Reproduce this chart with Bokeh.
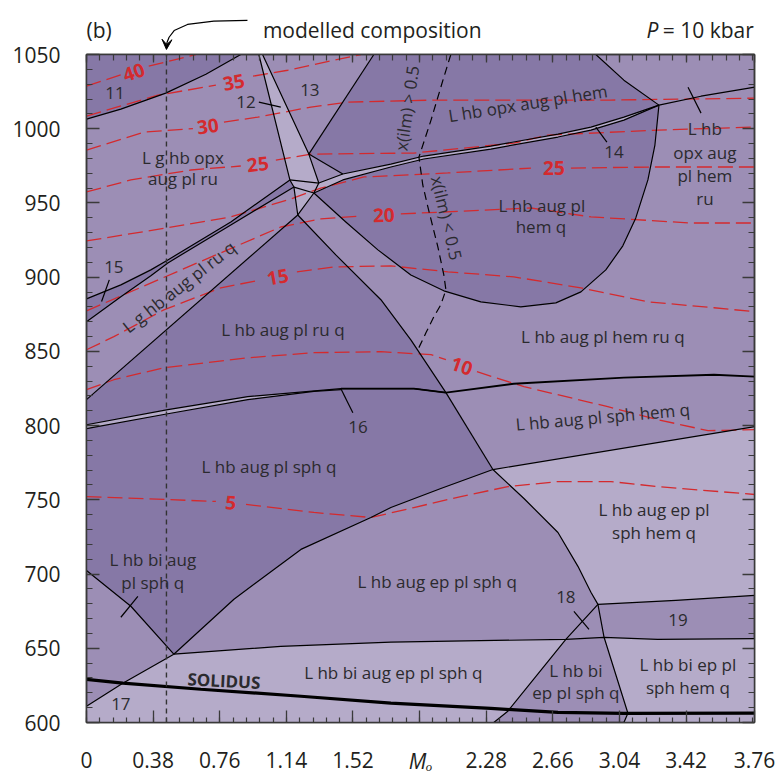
from bokeh.plotting import figure
from bokeh.layouts import column
from bokeh.models import (Range1d, FixedTicker, LinearAxis, Arrow,
                          VeeHead, ColumnDataSource)
from bokeh.embed import file_html
from bokeh.resources import INLINE
from bokeh.core.properties import value

NAN = float("nan")
FONT = "Open Sans"
INK = "#2b2a2e"
AXIS = "#3a3a3a"
RED = "#d42a2e"
DARK = "#8678a6"
MID = "#9c8eb5"
LIGHT = "#b5abc9"

# ---------------- axes ----------------
mo_ticks = [0, 0.38, 0.76, 1.14, 1.52, 1.9, 2.28, 2.66, 3.04, 3.42, 3.81]
mo_labels = ["0", "0.38", "0.76", "1.14", "1.52", "", "2.28", "2.66", "3.04", "3.42", "3.76"]
mo_minor = [round(0.076 * i, 3) for i in range(51)]
t_ticks = [600, 650, 700, 750, 800, 850, 900, 950, 1000, 1050]
t_minor = list(range(600, 1051, 10))
mo_title = "M\u2092"

# ---------------- field boundaries (M_O, T in deg C) ----------------
f11_mo = [0.0, 0.196, 0.452, 0.681, 0.880]
f11_t = [1006.5, 1013.2, 1024.0, 1036.7, 1050.0]

w_left_mo = [0.983, 1.160, 1.183, 1.205]
w_left_t = [1050.0, 965.5, 960.7, 941.9]
w_right_mo = [1.004, 1.268, 1.325, 1.297, 1.205]
w_right_t = [1050.0, 982.9, 963.4, 956.7, 941.9]
w_x1_mo = [1.160, 1.325]
w_x1_t = [965.5, 963.4]
w_x2_mo = [1.183, 1.297]
w_x2_t = [960.7, 956.7]

d_mo = [1.639, 1.268]
d_t = [1050.0, 982.9]
e_mo = [1.268, 1.462]
e_t = [982.9, 969.5]

b14u_mo = [1.325, 1.462, 1.736, 1.924, 2.306, 2.689, 2.877, 3.065, 3.265]
b14u_t = [963.4, 969.5, 976.2, 981.6, 988.3, 996.4, 1001.1, 1007.8, 1015.9]
b14l_mo = [1.297, 1.462, 1.736, 1.924, 2.306, 2.689, 2.877, 3.065, 3.265]
b14l_t = [956.7, 965.5, 974.2, 979.6, 986.3, 994.4, 999.1, 1005.8, 1015.9]

cv_mo = [1.297, 1.479, 1.662, 1.850, 2.038, 2.249, 2.477, 2.677, 2.820,
         2.962, 3.059, 3.133, 3.202, 3.242, 3.265]
cv_t = [956.7, 937.2, 918.4, 901.5, 890.8, 883.4, 880.0, 882.7, 890.1,
        904.9, 921.1, 939.9, 965.5, 989.0, 1015.9]

tr_mo = [2.905, 3.065, 3.265]
tr_t = [1050.0, 1032.7, 1015.9]
v7r_mo = [3.265, 3.505, 3.812]
v7r_t = [1015.9, 1021.9, 1028.0]

h1_mo = [0.0, 0.196, 0.367, 0.464, 0.823, 1.160]
h1_t = [885.4, 894.8, 904.9, 911.6, 937.2, 965.5]
h2_mo = [0.0, 0.196, 0.367, 0.464, 0.823, 1.183]
h2_t = [869.9, 886.8, 900.9, 909.6, 935.2, 960.7]

g_mo = [0.0, 1.205]
g_t = [817.5, 941.9]
f_mo = [1.205, 1.422, 1.679, 1.850, 2.050]
f_t = [941.9, 915.0, 884.8, 857.8, 822.2]

b16u_mo = [0.0, 0.464, 0.920, 1.451, 1.867, 2.050]
b16u_t = [800.6, 810.8, 819.5, 824.9, 824.9, 822.2]
b16l_mo = [0.0, 0.464, 0.920, 1.297, 1.451]
b16l_t = [798.0, 808.0, 817.5, 823.0, 824.2]
j16_mo = [2.050, 2.437, 3.065, 3.579, 3.812]
j16_t = [822.2, 828.2, 832.3, 834.3, 833.0]

i_mo = [2.050, 2.318]
i_t = [822.2, 770.4]
bv_mo = [2.318, 2.495, 2.689, 2.803, 2.877, 2.917]
bv_t = [770.4, 750.9, 728.0, 705.2, 687.7, 679.6]
j_mo = [2.318, 3.812]
j_t = [770.4, 799.3]
k_mo = [2.318, 2.021, 1.736, 1.622, 1.223, 0.841, 0.498]
k_t = [770.4, 757.6, 744.8, 738.1, 716.6, 683.0, 646.0]
l_mo = [0.0, 0.253, 0.498]
l_t = [702.4, 678.3, 646.0]
m_mo = [0.0, 0.207, 0.498]
m_t = [611.0, 626.5, 646.0]
n_mo = [0.498, 1.108, 1.736, 2.734, 2.952, 3.257, 3.812]
n_t = [646.0, 651.3, 654.2, 656.0, 657.4, 656.0, 656.5]
sol_mo = [0.0, 0.207, 0.652, 1.223, 1.736, 2.306, 2.689, 3.065, 3.812]
sol_t = [629.1, 626.5, 622.4, 617.7, 613.0, 609.5, 606.8, 606.1, 606.3]
q_mo = [2.917, 2.952, 3.088, 3.065]
q_t = [679.6, 657.4, 606.2, 600.0]
r_mo = [2.917, 2.734, 2.403, 2.323]
r_t = [679.6, 656.0, 607.6, 600.0]
s_mo = [2.917, 3.362, 3.812]
s_t = [679.6, 682.3, 685.6]

# x(ilm) = 0.5 isopleth
xilm_mo = [2.078, 2.033, 1.965, 1.896, 1.918, 1.947, 2.004, 2.038, 2.050,
           2.021, 1.981, 1.936, 1.890]
xilm_t = [1050.0, 1032.7, 1005.8, 980.9, 962.1, 947.3, 920.4, 901.5, 891.5,
          881.4, 873.3, 862.5, 851.1]

# modelled bulk composition
model_mo = 0.456

# ---------------- melt isopleths (NaN = break for the inline label) -------
c40_mo = [0.0, 0.207, NAN, 0.355, 0.624]
c40_t = [1028.7, 1036.8, NAN, 1042.1, 1050.0]
c35_mo = [0.0, 0.407, 0.738, NAN, 0.950, 1.148, 1.565]
c35_t = [1008.5, 1022.6, 1029.3, NAN, 1035.4, 1039.4, 1050.0]
c30_mo = [0.0, 0.327, 0.607, NAN, 0.784, 0.977, 1.280, 1.490, 1.981, 2.437, 2.991, 3.812]
c30_t = [985.6, 997.7, 1000.1, NAN, 1004.5, 1007.8, 1014.6, 1017.9, 1019.3, 1019.3, 1019.3, 1020.6]
c25a_mo = [0.0, 0.253, 0.596, 0.880, NAN, 1.080, 1.280, 1.867, 2.437, 2.632, 3.259, 3.812]
c25a_t = [957.4, 965.5, 972.2, 974.9, NAN, 978.9, 982.9, 983.6, 990.3, 995.7, 999.1, 1001.1]
c25b_mo = [0.0, 0.458, 0.823, 1.148, 1.336, 1.582, 2.061, 2.535, NAN, 2.763, 3.219, 3.812]
c25b_t = [924.4, 933.2, 940.6, 952.0, 960.0, 967.5, 970.2, 973.5, NAN, 973.5, 974.2, 974.2]
c20_mo = [0.0, 0.579, 1.108, 1.336, 1.565, NAN, 1.793, 2.535, 2.877, 3.447, 3.812]
c20_t = [877.3, 906.9, 933.8, 939.2, 941.2, NAN, 942.6, 946.6, 940.6, 936.5, 936.5]
c15_mo = [0.0, 0.156, 0.441, 0.766, 0.967, NAN, 1.200, 1.411, 1.736, 2.061, 2.437,
          2.820, 3.202, 3.579, 3.812]
c15_t = [851.1, 859.9, 878.0, 892.8, 897.5, NAN, 903.6, 906.9, 907.6, 903.6, 900.2,
         892.8, 883.4, 879.4, 876.7]
c10_mo = [0.0, 0.156, 0.441, 0.920, 1.297, 1.679, 1.965, 2.050, NAN, 2.227, 2.495,
          2.973, 3.259, 3.545, 3.812]
c10_t = [824.2, 830.9, 839.0, 845.7, 849.1, 849.8, 847.8, 844.4, NAN, 836.3, 826.2,
         812.8, 804.0, 796.6, 797.3]
c5_mo = [0.0, 0.464, 0.738, NAN, 0.910, 1.297, 1.622, 1.867, 2.135, 2.403, 2.689,
         2.991, 3.259, 3.812]
c5_t = [752.2, 750.2, 748.9, NAN, 746.9, 741.5, 738.1, 744.8, 752.2, 758.9, 762.3,
        762.3, 758.9, 753.6]

iso_text = ["40", "35", "30", "25", "25", "20", "15", "10", "5"]
iso_mo = [0.270, 0.840, 0.692, 0.977, 2.666, 1.696, 1.091, 2.141, 0.823]
iso_t = [1038.1, 1031.4, 1001.8, 976.2, 973.5, 941.9, 900.2, 840.3, 748.2]
iso_rot = [0.33, 0.19, 0.13, 0.12, 0.0, 0.03, 0.18, -0.33, -0.09]

# ---------------- field labels ----------------
fld_text = ["11", "12", "13", "L g hb opx", "aug pl ru", "L hb opx aug pl hem", "14",
            "L hb", "opx aug", "pl hem", "ru", "L hb aug pl", "hem q", "15",
            "L g hb aug pl ru q", "L hb aug pl ru q", "L hb aug pl hem ru q",
            "L hb aug pl sph hem q", "16", "L hb aug pl sph q", "L hb aug ep pl",
            "sph hem q", "L hb aug ep pl sph q", "L hb bi aug", "pl sph q",
            "L hb bi aug ep pl sph q", "17", "L hb bi", "ep pl sph q",
            "L hb bi ep pl", "sph hem q", "18", "19", "x(ilm) > 0.5", "x(ilm) < 0.5"]
fld_mo = [0.162, 0.910, 1.274, 0.550, 0.550, 2.517, 3.008,
          3.527, 3.527, 3.527, 3.527, 2.597, 2.592, 0.156,
          0.527, 1.120, 2.945,
          2.945, 1.548, 1.041, 3.237,
          3.237, 2.000, 0.378, 0.378,
          1.750, 0.196, 2.791, 2.791,
          3.430, 3.430, 2.734, 3.373, 1.827, 2.055]
fld_t = [1024.0, 1017.9, 1026.0, 980.9, 966.8, 1017.2, 984.3,
         1000.4, 984.3, 968.8, 953.3, 948.6, 933.8, 906.9,
         893.5, 864.6, 859.9,
         806.0, 799.3, 772.4, 743.5,
         728.0, 695.3, 709.9, 694.4,
         633.8, 612.3, 635.2, 620.4,
         639.2, 623.8, 684.3, 668.8, 1013.9, 939.9]
fld_rot = [0, 0, 0, 0, 0, 0.157, 0,
           0, 0, 0, 0, 0, 0, 0,
           0.66, 0, 0,
           0.087, 0, 0, 0,
           0, 0, 0, 0,
           0, 0, 0, 0,
           0, 0, 0, 0, 1.43, -1.34]

# short tie marks pointing into narrow fields
tie_mo = [[0.983, 1.108], [2.905, 2.968], [3.431, 3.505], [0.130, 0.086],
          [1.451, 1.519], [2.780, 2.866], [0.196, 0.293]]
tie_t = [[1017.9, 1014.6], [1001.1, 991.0], [1028.0, 1010.5], [898.2, 883.6],
         [824.9, 808.7], [674.9, 662.8], [670.9, 685.0]]

# curved pointer to the modelled composition (drawn in the header strip)
arrow_mo = [0.918, 0.726, 0.576, 0.500, 0.471, 0.458, 0.456]
arrow_t = [1073.1, 1072.6, 1070.4, 1066.3, 1061.8, 1058.0, 1053.6]

# header strip texts
head_text = ["(b)", "modelled composition", "= 10 kbar"]
head_mo = [0.0, 1.006, 3.806]
head_align = ["left", "left", "right"]
head_t = 1066.5


def poly(*parts):
    xs, ys = [], []
    for mo, t in parts:
        xs.extend(mo)
        ys.extend(t)
    return xs, ys


xr = Range1d(0, 3.81)

# ---------------- header strip ----------------
# its lower 16 px sit under the diagram's (transparent) top border
head = figure(width=780, height=50, x_range=xr, y_range=Range1d(1052.9, 1086.5),
              output_backend="svg", toolbar_location=None,
              x_axis_location=None, y_axis_location=None,
              min_border_left=86, min_border_right=26, min_border_top=0, min_border_bottom=0,
              background_fill_color="white", border_fill_color="white",
              outline_line_color=None, margin=(0, 0, -16, 0))
head.grid.visible = False
head.text(x=head_mo, y=[head_t] * 3, text=head_text, text_align=head_align,
          text_font=value(FONT), text_font_size=value("21px"), text_color="#231f20",
          text_baseline="alphabetic")
head.text(x=[3.262], y=[head_t], text=["P"], text_align="right",
          text_font=value(FONT), text_font_size=value("21px"), text_font_style="italic",
          text_color="#231f20", text_baseline="alphabetic")
head.line(arrow_mo[:-1], arrow_t[:-1], line_color="black", line_width=1.2)
head.add_layout(Arrow(x_start=arrow_mo[-2], y_start=arrow_t[-2],
                      x_end=arrow_mo[-1], y_end=arrow_t[-1],
                      end=VeeHead(size=10, fill_color="black", line_color="black",
                                  line_width=1),
                      line_color="black", line_width=1.2))

# ---------------- main diagram ----------------
p = figure(width=780, height=743, x_range=xr, y_range=Range1d(600, 1050),
           output_backend="svg", toolbar_location=None,
           min_border_left=86, min_border_right=26, min_border_top=20, min_border_bottom=54,
           background_fill_color=MID, border_fill_color="white", border_fill_alpha=0)
p.grid.visible = False
p.outline_line_color = AXIS
p.outline_line_width = 1.5

# ---- field fills ----
fills = [
    (poly(([0.0], [1050.0]), (f11_mo, f11_t)), DARK),
    (poly((h1_mo, h1_t), (h2_mo[::-1], h2_t[::-1])), DARK),
    (poly(([1.639], [1050.0]), (tr_mo, tr_t), (b14u_mo[:0:-1], b14u_t[:0:-1]),
          ([1.268], [982.9])), DARK),
    (poly((b14l_mo, b14l_t), (cv_mo[::-1], cv_t[::-1])), DARK),
    (poly((g_mo, g_t), (f_mo[1:], f_t[1:]), (i_mo[1:], i_t[1:]), (k_mo[1:], k_t[1:]),
          (l_mo[-2::-1], l_t[-2::-1])), DARK),
    (poly((w_right_mo, w_right_t), (w_left_mo[::-1], w_left_t[::-1])), LIGHT),
    (poly((j_mo, j_t), (s_mo[::-1], s_t[::-1]), (bv_mo[::-1], bv_t[::-1])), LIGHT),
    (poly(([0.0], [600.0]), (m_mo, m_t), (n_mo[1:4], n_t[1:4]), (r_mo[2:], r_t[2:])), LIGHT),
    (poly((n_mo[4:], n_t[4:]), ([3.812], [600.0]), (q_mo[:1:-1], q_t[:1:-1])), LIGHT),
    (poly((b14u_mo, b14u_t), (b14l_mo[::-1], b14l_t[::-1])), LIGHT),
    (poly((b16u_mo[:4], b16u_t[:4]), (b16l_mo[::-1], b16l_t[::-1])), LIGHT),
]
p.patches(xs=[f[0][0] for f in fills], ys=[f[0][1] for f in fills],
          fill_color=[f[1] for f in fills], line_color=None)

# ---- melt isopleths ----
for mo, t in [(c40_mo, c40_t), (c35_mo, c35_t), (c30_mo, c30_t), (c25a_mo, c25a_t),
              (c25b_mo, c25b_t), (c20_mo, c20_t), (c15_mo, c15_t), (c10_mo, c10_t),
              (c5_mo, c5_t)]:
    p.line(mo, t, line_color=RED, line_width=1.3, line_dash="15 6")

# ---- field boundaries ----
bounds = [(f11_mo, f11_t), (w_left_mo, w_left_t), (w_right_mo, w_right_t),
          (w_x1_mo, w_x1_t), (w_x2_mo, w_x2_t), (d_mo, d_t), (e_mo, e_t),
          (b14u_mo, b14u_t), (b14l_mo, b14l_t), (cv_mo, cv_t), (tr_mo, tr_t),
          (v7r_mo, v7r_t), (h1_mo, h1_t), (h2_mo, h2_t), (g_mo, g_t), (f_mo, f_t),
          (b16u_mo, b16u_t), (b16l_mo, b16l_t), (i_mo, i_t), (bv_mo, bv_t),
          (j_mo, j_t), (k_mo, k_t), (l_mo, l_t), (m_mo, m_t), (n_mo, n_t),
          (q_mo, q_t), (r_mo, r_t), (s_mo, s_t)]
p.multi_line(xs=[b[0] for b in bounds], ys=[b[1] for b in bounds],
             line_color="black", line_width=1.2, line_join="round")
p.line(j16_mo, j16_t, line_color="black", line_width=1.9)
p.line(b16u_mo[3:], b16u_t[3:], line_color="black", line_width=1.9)
p.line(sol_mo, sol_t, line_color="black", line_width=3.2)
p.multi_line(xs=tie_mo, ys=tie_t, line_color="black", line_width=1.2)

p.line(xilm_mo, xilm_t, line_color="black", line_width=1.2, line_dash="8 5")
p.line([model_mo, model_mo], [600, 1050], line_color="#333333", line_width=1.4,
       line_dash="5 4")

# ---- labels ----
fld_src = ColumnDataSource(dict(x=fld_mo, y=fld_t, text=fld_text, angle=fld_rot))
p.text(x="x", y="y", text="text", angle="angle", source=fld_src,
       text_font=value(FONT), text_font_size=value("17px"), text_color=INK,
       text_align="center", text_baseline="middle")
iso_src = ColumnDataSource(dict(x=iso_mo, y=iso_t, text=iso_text, angle=iso_rot))
p.text(x="x", y="y", text="text", angle="angle", source=iso_src,
       text_font=value(FONT), text_font_size=value("19px"), text_font_style="bold",
       text_color=RED, text_align="center", text_baseline="middle")
p.text(x=[0.784], y=[628.2], text=["SOLIDUS"], angle=[-0.05],
       text_font=value(FONT), text_font_size=value("17px"), text_font_style="bold",
       text_color=INK, text_align="center", text_baseline="middle")


# ---- axes ----
def style_axis(ax, tick_in, minor_in, label_size="21px"):
    ax.axis_line_color = AXIS
    ax.axis_line_width = 1.5
    ax.major_tick_line_color = AXIS
    ax.minor_tick_line_color = AXIS
    ax.major_tick_line_width = 1.3
    ax.minor_tick_line_width = 1.2
    ax.major_tick_out = 0
    ax.minor_tick_out = 0
    ax.major_tick_in = tick_in
    ax.minor_tick_in = minor_in
    ax.major_label_text_font = FONT
    ax.major_label_text_font_size = label_size
    ax.major_label_text_color = "#231f20"


xa = p.xaxis[0]
xa.ticker = FixedTicker(ticks=mo_ticks, minor_ticks=mo_minor)
xa.major_label_overrides = {tk: lb for tk, lb in zip(mo_ticks, mo_labels)}
style_axis(xa, 12, 5)
xa.major_label_standoff = 29
# the M_O title sits in the tick-label row, under the 1.9 position
xa.axis_label = mo_title
xa.axis_label_text_font = FONT
xa.axis_label_text_font_size = "21px"
xa.axis_label_text_font_style = "italic"
xa.axis_label_text_color = "#231f20"
xa.axis_label_standoff = -24

ya = p.yaxis[0]
ya.ticker = FixedTicker(ticks=t_ticks, minor_ticks=t_minor)
ya.major_label_overrides = {tk: str(tk) for tk in t_ticks}
style_axis(ya, 13, 6)
ya.major_label_standoff = 26

ra = LinearAxis(ticker=FixedTicker(ticks=t_ticks, minor_ticks=t_minor),
                major_label_overrides={tk: "" for tk in t_ticks})
style_axis(ra, 12, 6, "1px")
ra.major_label_standoff = 0
p.add_layout(ra, "right")
ta = LinearAxis(ticker=FixedTicker(ticks=mo_ticks, minor_ticks=mo_minor),
                major_label_overrides={tk: "" for tk in mo_ticks})
style_axis(ta, 8, 6, "1px")
ta.major_label_standoff = 0
p.add_layout(ta, "above")

open("out.html", "w").write(file_html(column(head, p, spacing=0), INLINE))
